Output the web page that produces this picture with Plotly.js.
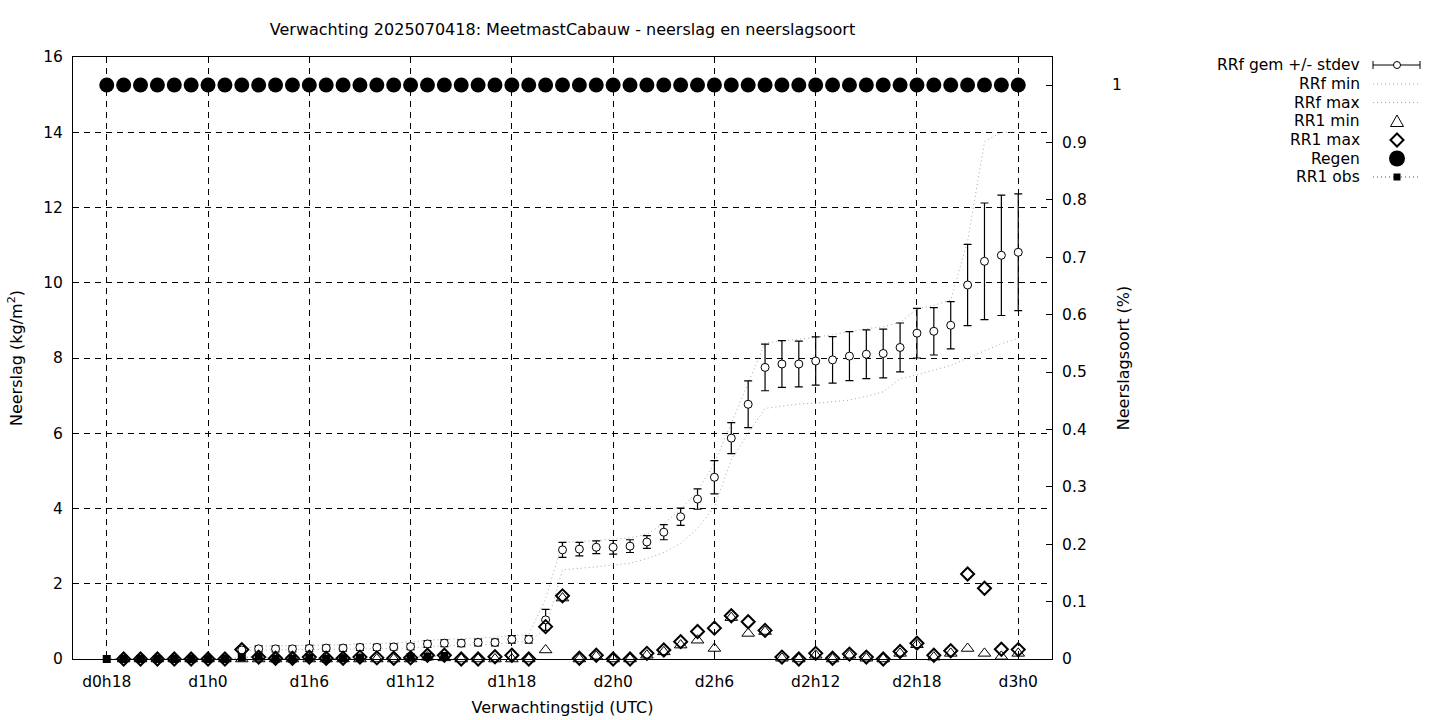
<!DOCTYPE html>
<html>
<head>
<meta charset="utf-8">
<script src="https://cdn.plot.ly/plotly-3.0.1.min.js"></script>
<style>
html,body{margin:0;padding:0;background:#fff;}
#chart{width:1440px;height:720px;}
</style>
</head>
<body>
<div id="chart"></div>
<script>
// ---------------- data (hours since d0h0) ----------------
const regenHours = [18,19,20,21,22,23,24,25,26,27,28,29,30,31,32,33,34,35,36,37,38,39,40,41,42,43,44,45,46,47,48,49,50,51,52,53,54,55,56,57,58,59,60,61,62,63,64,65,66,67,68,69,70,71,72];
const regenValues = [1,1,1,1,1,1,1,1,1,1,1,1,1,1,1,1,1,1,1,1,1,1,1,1,1,1,1,1,1,1,1,1,1,1,1,1,1,1,1,1,1,1,1,1,1,1,1,1,1,1,1,1,1,1,1];

const rr1Hours = [19,20,21,22,23,24,25,26,27,28,29,30,31,32,33,34,35,36,37,38,39,40,41,42,43,44,45,46,47,48,49,50,51,52,53,54,55,56,57,58,59,60,61,62,63,64,65,66,67,68,69,70,71,72];
const rr1Max = [0,0,0,0,0,0,0,
  0.25,0.05,0.02,0.02,0.05,0.02,0.02,0.05,0.03,0.02,0.03,0.10,0.10,0,0,0.06,0.10,0,
  0.86,1.68,0.02,0.10,0,0,0.15,0.24,0.46,0.73,0.82,1.15,0.99,0.76,0.05,0,0.15,0.02,0.13,0.05,0,0.20,0.42,0.10,0.22,2.26,1.88,0.26,0.25];
const rr1Min = [0,0,0,0,0,0,0,
  0,0,0,0,0,0,0,0,0,0,0,0.05,0.03,0,0,0,0,0,
  0.24,1.62,0,0.07,0,0,0.10,0.19,0.37,0.50,0.28,1.10,0.68,0.73,0.02,0,0.10,0,0.10,0.02,0,0.15,0.38,0.05,0.15,0.28,0.15,0.07,0.15];

const rrfHours = [26,27,28,29,30,31,32,33,34,35,36,37,38,39,40,41,42,43,44,45,46,47,48,49,50,51,52,53,54,55,56,57,58,59,60,61,62,63,64,65,66,67,68,69,70,71,72];
const rrfMean = [0.24,0.27,0.27,0.27,0.28,0.29,0.29,0.31,0.31,0.32,0.33,0.40,0.42,0.42,0.44,0.44,0.52,0.52,
  1.04,2.90,2.92,2.97,2.97,3.00,3.11,3.37,3.78,4.25,4.83,5.87,6.77,7.75,7.84,7.84,7.92,7.95,8.05,8.10,8.12,8.28,8.66,8.71,8.87,9.94,10.57,10.73,10.81];
const rrfStd = [0.08,0.08,0.08,0.08,0.08,0.08,0.08,0.08,0.08,0.08,0.08,0.09,0.09,0.09,0.09,0.09,0.10,0.10,
  0.28,0.20,0.18,0.17,0.18,0.17,0.17,0.20,0.23,0.27,0.44,0.41,0.62,0.62,0.62,0.61,0.64,0.62,0.65,0.65,0.65,0.65,0.66,0.63,0.63,1.08,1.55,1.60,1.55];
const rrfMin = [0.20,0.24,0.24,0.24,0.25,0.26,0.26,0.27,0.27,0.28,0.29,0.33,0.35,0.36,0.38,0.39,0.45,0.47,
  0.80,2.37,2.40,2.45,2.50,2.54,2.67,2.83,3.07,3.47,4.05,5.29,6.00,6.66,6.72,6.78,6.80,6.84,6.88,6.98,7.10,7.45,7.55,7.68,7.80,8.00,8.20,8.38,8.52];
const rrfMax = [0.28,0.33,0.35,0.35,0.36,0.37,0.38,0.40,0.40,0.42,0.45,0.50,0.52,0.53,0.55,0.58,0.62,0.65,
  1.60,3.10,3.12,3.15,3.20,3.22,3.32,3.60,3.97,4.47,5.20,6.27,7.33,8.40,8.45,8.50,8.55,8.62,8.70,8.78,8.83,8.95,9.30,9.40,9.54,11.10,13.75,14.00,14.00];

const obsHours = [18,19,20,21,22,23,24,25,26,27,28,29,30,31,32,33,34,35,36,37,38];
const obsValues = [0,0,0,0,0,0,0,0,0.04,0.06,0,0,0.04,0,0.02,0.03,null,null,0.05,0.06,0.08];

const xTickVals = [18,24,30,36,42,48,54,60,66,72];
const xTickText = ['d0h18','d1h0','d1h6','d1h12','d1h18','d2h0','d2h6','d2h12','d2h18','d3h0'];
const y2TickVals = [0,0.1,0.2,0.3,0.4,0.5,0.6,0.7,0.8,0.9,1];
const y2TickText = ['0','0.1','0.2','0.3','0.4','0.5','0.6','0.7','0.8','0.9',''];
const y2TopLabel = '1';

const legendLabels = ['RRf gem +/- stdev','RRf min','RRf max','RR1 min','RR1 max','Regen','RR1 obs'];

// ---------------- layout geometry ----------------
const W = 1440, H = 720;
const L = 73, R = 1052, T = 57, B = 659;
const FONT = 'DejaVu Sans, sans-serif';
const px = x => (x - L) / (R - L);
const py = y => (B - y) / (B - T);

const traces = [
  {x: rrfHours, y: rrfMin, mode: 'lines', name: 'RRf min', line: {color: '#a8a8a8', width: 1, dash: '1px,3px'}, hoverinfo: 'skip'},
  {x: rrfHours, y: rrfMax, mode: 'lines', name: 'RRf max', line: {color: '#a8a8a8', width: 1, dash: '1px,3px'}, hoverinfo: 'skip'},
  {x: rrfHours, y: rrfMean, mode: 'markers', name: 'RRf gem +/- stdev', cliponaxis: false,
   marker: {symbol: 'circle', size: 8, color: '#ffffff', line: {color: '#000', width: 1}},
   error_y: {type: 'data', array: rrfStd, visible: true, color: '#000', thickness: 1.2, width: 4}},
  {x: rr1Hours, y: rr1Min, mode: 'markers', name: 'RR1 min', cliponaxis: false,
   marker: {symbol: 'triangle-up-open', size: 11, color: '#000', line: {color: '#000', width: 1}}},
  {x: rr1Hours, y: rr1Max, mode: 'markers', name: 'RR1 max', cliponaxis: false,
   marker: {symbol: 'diamond-open', size: 10, color: '#000', line: {color: '#000', width: 2}}},
  {x: regenHours, y: regenValues, yaxis: 'y2', mode: 'markers', name: 'Regen', cliponaxis: false,
   marker: {symbol: 'circle', size: 15, color: '#000'}},
  {x: obsHours, y: obsValues, mode: 'lines+markers', name: 'RR1 obs', cliponaxis: false,
   line: {color: '#555', width: 1, dash: '1px,3px'}, marker: {symbol: 'square', size: 8, color: '#000'}}
];

// ---------- custom gnuplot-style legend (text right, sample left->right) ----------
const rowY = [65, 84, 102.5, 121, 140, 158.5, 177];
const textRight = 1362, sX0 = 1373, sX1 = 1420, sC = 1397;
const LEGEND_FONT = {family: FONT, size: 15.5, color: '#000'};
const annotations = legendLabels.map((t, i) => ({
  text: t, xref: 'paper', yref: 'paper', x: px(textRight), y: py(rowY[i]),
  xanchor: 'right', yanchor: 'middle', showarrow: false, font: LEGEND_FONT
}));
annotations.push({text: y2TopLabel, xref: 'paper', yref: 'paper', x: px(1117), y: py(85),
  xanchor: 'center', yanchor: 'middle', showarrow: false, font: LEGEND_FONT});
const P = (x, y) => px(x) + ',' + py(y);
const shapes = [];
// errorbar sample
shapes.push({type: 'line', xref: 'paper', yref: 'paper', x0: px(sX0), x1: px(sX1), y0: py(rowY[0]), y1: py(rowY[0]), line: {color: '#000', width: 1}});
shapes.push({type: 'line', xref: 'paper', yref: 'paper', x0: px(sX0), x1: px(sX0), y0: py(rowY[0]-4), y1: py(rowY[0]+4), line: {color: '#000', width: 1}});
shapes.push({type: 'line', xref: 'paper', yref: 'paper', x0: px(sX1), x1: px(sX1), y0: py(rowY[0]-4), y1: py(rowY[0]+4), line: {color: '#000', width: 1}});
shapes.push({type: 'circle', xref: 'paper', yref: 'paper', x0: px(sC-3.5), x1: px(sC+3.5), y0: py(rowY[0]-3.5), y1: py(rowY[0]+3.5), fillcolor: '#fff', line: {color: '#000', width: 1}});
// RRf min / max samples
[1, 2].forEach(i => shapes.push({type: 'line', xref: 'paper', yref: 'paper', x0: px(sX0), x1: px(sX1), y0: py(rowY[i]), y1: py(rowY[i]), line: {color: '#a8a8a8', width: 1, dash: '1px,3px'}}));
// triangle
shapes.push({type: 'path', xref: 'paper', yref: 'paper', path: 'M' + P(sC-6.5, rowY[3]+5.5) + ' L' + P(sC+6.5, rowY[3]+5.5) + ' L' + P(sC, rowY[3]-6) + ' Z', line: {color: '#000', width: 1}});
// diamond
shapes.push({type: 'path', xref: 'paper', yref: 'paper', path: 'M' + P(sC, rowY[4]-6.5) + ' L' + P(sC+6.5, rowY[4]) + ' L' + P(sC, rowY[4]+6.5) + ' L' + P(sC-6.5, rowY[4]) + ' Z', line: {color: '#000', width: 2}});
// filled circle
shapes.push({type: 'circle', xref: 'paper', yref: 'paper', x0: px(sC-8), x1: px(sC+8), y0: py(rowY[5]-8), y1: py(rowY[5]+8), fillcolor: '#000', line: {color: '#000', width: 0}});
// obs sample
shapes.push({type: 'line', xref: 'paper', yref: 'paper', x0: px(sX0), x1: px(sX1), y0: py(rowY[6]), y1: py(rowY[6]), line: {color: '#555', width: 1, dash: '1px,3px'}});
shapes.push({type: 'rect', xref: 'paper', yref: 'paper', x0: px(sC-3.5), x1: px(sC+3.5), y0: py(rowY[6]-3.5), y1: py(rowY[6]+3.5), fillcolor: '#000', line: {color: '#000', width: 0}});

const tickFont = {family: FONT, size: 15.5, color: '#000'};
const titleFont = {family: FONT, size: 16, color: '#000'};
const layout = {
  width: W, height: H,
  paper_bgcolor: '#fff', plot_bgcolor: '#fff',
  margin: {l: L, r: W - R, t: T, b: H - B, pad: 0},
  showlegend: false,
  font: tickFont,
  title: {text: 'Verwachting 2025070418: MeetmastCabauw - neerslag en neerslagsoort', font: titleFont,
          xref: 'paper', x: 0.5, xanchor: 'center', yref: 'container', y: 1 - 29 / H, yanchor: 'middle'},
  xaxis: {range: [16, 74], tickmode: 'array', tickvals: xTickVals, ticktext: xTickText,
          ticks: 'inside', ticklen: 6, tickcolor: '#000', showline: true, linecolor: '#000', linewidth: 1, mirror: 'ticks',
          showgrid: true, gridcolor: '#000', gridwidth: 1, griddash: '6px,5px', zeroline: false,
          tickfont: tickFont, ticklabelstandoff: 8,
          title: {text: 'Verwachtingstijd (UTC)', font: titleFont, standoff: 12}},
  yaxis: {range: [0, 16], tickmode: 'array', tickvals: [0,2,4,6,8,10,12,14,16],
          ticks: 'inside', ticklen: 6, tickcolor: '#000', showline: true, linecolor: '#000', linewidth: 1, mirror: false,
          showgrid: true, gridcolor: '#000', gridwidth: 1, griddash: '6px,5px', zeroline: false,
          tickfont: tickFont, ticklabelstandoff: 6,
          title: {text: 'Neerslag (kg/m<sup>2</sup>)', font: titleFont, standoff: 16}},
  yaxis2: {range: [0, 1.0488], overlaying: 'y', side: 'right', tickmode: 'array', tickvals: y2TickVals, ticktext: y2TickText,
           ticks: 'inside', ticklen: 6, tickcolor: '#000', showline: true, linecolor: '#000', linewidth: 1,
           showgrid: false, zeroline: false, tickfont: tickFont, ticklabelstandoff: 6,
           title: {text: 'Neerslagsoort (%)', font: titleFont, standoff: 32}},
  annotations: annotations,
  shapes: shapes
};

Plotly.newPlot('chart', traces, layout, {displayModeBar: false, staticPlot: true});
</script>
</body>
</html>
